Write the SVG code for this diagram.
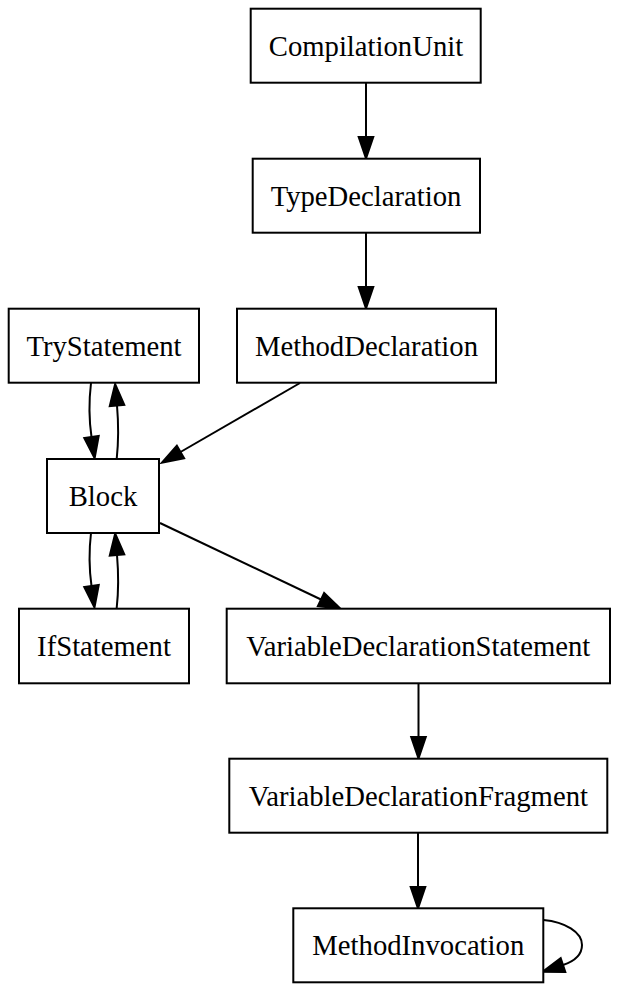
<svg xmlns="http://www.w3.org/2000/svg" width="618" height="992" viewBox="0 0 618 992">
<defs>
<style>
.n rect{fill:#fff;stroke:#000;stroke-width:2}
.n text{font-family:"Liberation Serif","Times New Roman",serif;font-size:28.7px;text-anchor:middle;fill:#000}
.e path{fill:none;stroke:#000;stroke-width:2;marker-end:url(#ah)}
</style>
<marker id="ah" markerUnits="userSpaceOnUse" viewBox="0 -8 23 16" markerWidth="23" markerHeight="16" refX="0" refY="0" orient="auto" overflow="visible">
<path d="M0,-7.3 L21.5,0 L0,7.3 z" fill="#000" stroke="#000" stroke-width="2"/>
</marker>
</defs>
<rect width="618" height="992" fill="#fff"/>
<g id="edges" class="e">
<path d="M366,83 L366,137"/>
<path d="M366,233 L366,287"/>
<path d="M300,383 L180.5,452"/>
<path d="M91,383 C89,400 89,420 91.5,437"/>
<path d="M116.7,459 C118.7,440 118.7,425 117,405.5"/>
<path d="M91,533 C89,550 89,568 91.5,586"/>
<path d="M116.7,608 C118.7,590 118.7,575 117,555"/>
<path d="M160,523 L321,599.5"/>
<path d="M418.5,683 L418.5,737"/>
<path d="M418,833 L418,887"/>
<path d="M543.5,920 C565,922 582,932 582,945 C582,955 575,961 563,965"/>
</g>
<g id="CompilationUnit" class="n"><rect x="250.7" y="8.7" width="230" height="74"/><text x="366" y="55.5">CompilationUnit</text></g>
<g id="TypeDeclaration" class="n"><rect x="252.7" y="158.7" width="227.3" height="74"/><text x="366" y="205.5">TypeDeclaration</text></g>
<g id="MethodDeclaration" class="n"><rect x="237" y="308.7" width="259" height="74"/><text x="366.5" y="355.5">MethodDeclaration</text></g>
<g id="TryStatement" class="n"><rect x="8.7" y="308.7" width="190.3" height="74"/><text x="104" y="355.5">TryStatement</text></g>
<g id="Block" class="n"><rect x="47" y="459" width="112" height="74"/><text x="103" y="505.5">Block</text></g>
<g id="IfStatement" class="n"><rect x="19" y="608.7" width="170" height="74.6"/><text x="104" y="655.5">IfStatement</text></g>
<g id="VariableDeclarationStatement" class="n"><rect x="226.7" y="608.7" width="383.3" height="74.6"/><text x="418.3" y="655.5">VariableDeclarationStatement</text></g>
<g id="VariableDeclarationFragment" class="n"><rect x="229.3" y="758.7" width="378" height="74"/><text x="418.3" y="805.5">VariableDeclarationFragment</text></g>
<g id="MethodInvocation" class="n"><rect x="293.3" y="908.3" width="250" height="74"/><text x="418.3" y="955">MethodInvocation</text></g>
</svg>
